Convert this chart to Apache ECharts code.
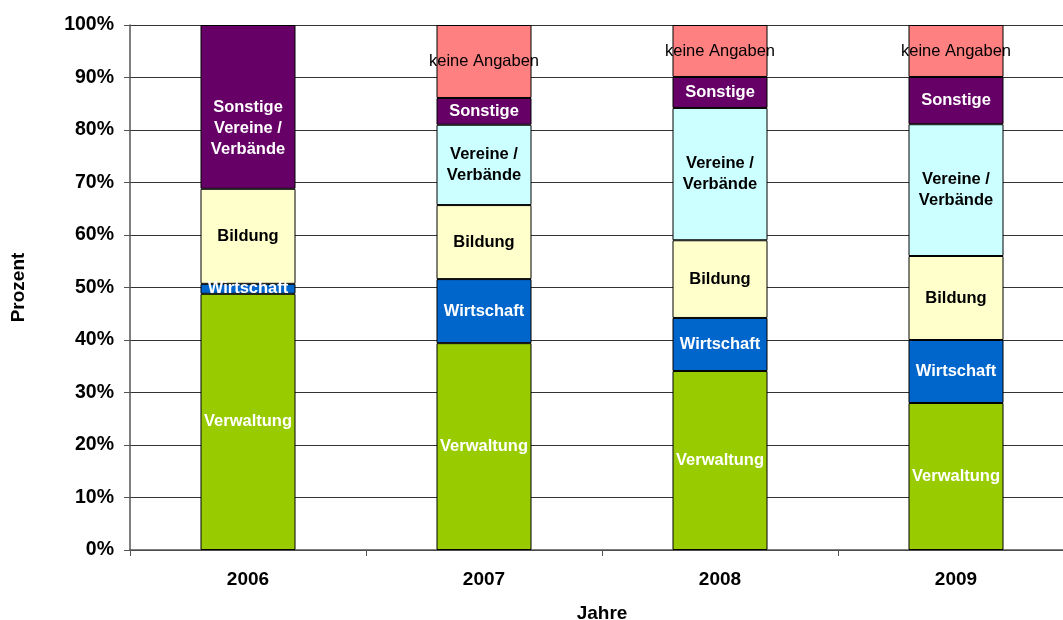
<!DOCTYPE html>
<html>
<head>
<meta charset="utf-8">
<script src="https://cdn.jsdelivr.net/npm/echarts@6/dist/echarts.min.js"></script>
<style>
  html, body { margin: 0; padding: 0; background: #fff; }
  #chart { width: 1063px; height: 620px; }
</style>
</head>
<body>
<div id="chart"></div>
<script>
// Anteile in Prozent je Jahr
const years = ['2006', '2007', '2008', '2009']
const verwaltung = [48.8, 39.4, 34.1, 28.0]
const wirtschaft = [1.9, 12.2, 10.1, 12.0]
const bildung = [18.1, 14.1, 14.8, 16.0]
const vereine = [null, 15.3, 25.2, 25.1]
const sonstige = [31.2, 5.1, 5.9, 9.0]
const keineAngaben = [null, 13.9, 9.9, 9.9]
const yTicks = [0, 10, 20, 30, 40, 50, 60, 70, 80, 90, 100]

const FONT = '"Liberation Sans", Arial, sans-serif'

function bar(name, data, color, labelColor, bold, text) {
  return {
    name, type: 'bar', stack: 'total', data,
    barWidth: 95,
    itemStyle: { color, borderColor: '#000', borderWidth: 1 },
    label: {
      show: true, position: 'inside',
      color: labelColor, fontFamily: FONT, fontSize: 16.5,
      fontWeight: bold ? 'bold' : 'normal', lineHeight: 21,
      formatter: (p) => {
        const v = Array.isArray(p.value) ? p.value[1] : p.value
        return v ? (typeof text === 'function' ? text(p) : text) : ''
      }
    },
    emphasis: { disabled: true }
  }
}

// 2006: Sonstige und Vereine/Verbände gemeinsam, Beschriftung etwas tiefer
const sonstigeData = sonstige.map((v, i) => (i === 0 ? { value: v, label: { offset: [0, 22] } } : v))

const chart = echarts.init(document.getElementById('chart'))
chart.setOption({
  animation: false,
  backgroundColor: '#fff',
  grid: { left: 130, top: 25, bottom: 70, width: 944, containLabel: false, outerBoundsMode: 'none' },
  xAxis: {
    type: 'category', data: years,
    name: 'Jahre', nameLocation: 'middle', nameGap: 54,
    nameTextStyle: { fontFamily: FONT, fontSize: 19, fontWeight: 'bold', color: '#000' },
    axisLine: { lineStyle: { color: '#555', width: 1.5 } },
    axisTick: { show: true, length: 6, lineStyle: { color: '#555' } },
    axisLabel: { fontFamily: FONT, fontSize: 19, fontWeight: 'bold', color: '#000', margin: 20 }
  },
  yAxis: {
    type: 'value', min: 0, max: 100, interval: 10,
    name: 'Prozent', nameLocation: 'middle', nameGap: 102, nameRotate: 90,
    nameTextStyle: { fontFamily: FONT, fontSize: 19, fontWeight: 'bold', color: '#000' },
    axisLine: { show: true, lineStyle: { color: '#555', width: 1.5 } },
    axisTick: { show: true, length: 6, lineStyle: { color: '#555' } },
    axisLabel: {
      fontFamily: FONT, fontSize: 19.5, fontWeight: 'bold', color: '#000', margin: 16,
      formatter: (v) => (yTicks.includes(v) ? v + '%' : '')
    },
    splitLine: { lineStyle: { color: '#333', width: 1 } }
  },
  series: [
    bar('Verwaltung', verwaltung, '#99cc00', '#fff', true, 'Verwaltung'),
    bar('Wirtschaft', wirtschaft, '#0066cc', '#fff', true, 'Wirtschaft'),
    bar('Bildung', bildung, '#ffffcc', '#000', true, 'Bildung'),
    bar('Vereine / Verbände', vereine, '#ccffff', '#000', true, 'Vereine /\nVerbände'),
    bar('Sonstige', sonstigeData, '#660066', '#fff', true,
      (p) => (p.dataIndex === 0 ? 'Sonstige\nVereine /\nVerbände' : 'Sonstige')),
    bar('keine Angaben', keineAngaben, '#ff8080', '#000', false, 'keine Angaben')
  ]
})
</script>
</body>
</html>
